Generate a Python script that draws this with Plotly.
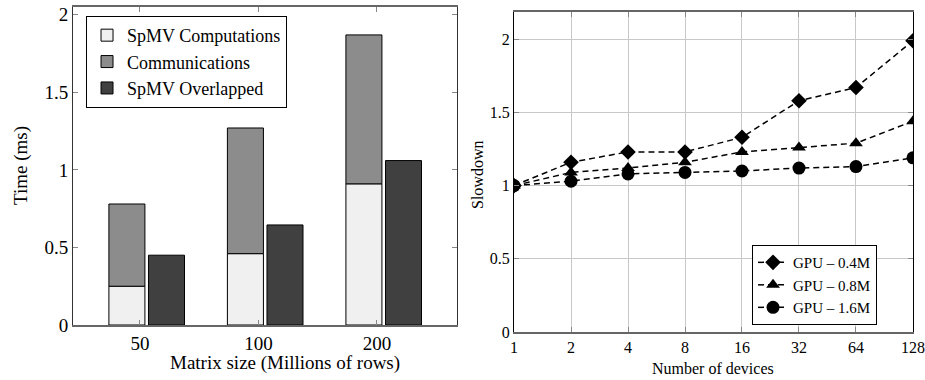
import plotly.graph_objects as go

# Left chart data
matrix_sizes = ["50", "100", "200"]
spmv_comp = [0.25, 0.46, 0.91]
communications = [0.53, 0.81, 0.96]
spmv_overlapped = [0.45, 0.645, 1.06]

# Right chart data
devices = [1, 2, 4, 8, 16, 32, 64, 128]
gpu_04 = [1.0, 1.16, 1.23, 1.23, 1.33, 1.58, 1.67, 1.99]
gpu_08 = [1.0, 1.09, 1.12, 1.16, 1.23, 1.26, 1.29, 1.44]
gpu_16 = [1.0, 1.03, 1.08, 1.09, 1.10, 1.12, 1.13, 1.19]

FONT = "Liberation Serif"
xpos = list(range(len(matrix_sizes)))
BW = 0.304

fig = go.Figure()
fig.add_trace(go.Bar(x=xpos, y=spmv_comp, width=BW, offset=-0.262,
                     marker=dict(color="#f0f0f0", line=dict(color="black", width=1)),
                     name="SpMV Computations", xaxis="x", yaxis="y", legend="legend"))
fig.add_trace(go.Bar(x=xpos, y=communications, base=spmv_comp, width=BW, offset=-0.262,
                     marker=dict(color="#8c8c8c", line=dict(color="black", width=1)),
                     name="Communications", xaxis="x", yaxis="y", legend="legend"))
fig.add_trace(go.Bar(x=xpos, y=spmv_overlapped, width=BW, offset=0.072,
                     marker=dict(color="#404040", line=dict(color="black", width=1)),
                     name="SpMV Overlapped", xaxis="x", yaxis="y", legend="legend"))

line_style = dict(color="black", width=1.5, dash="6px,4px")
fig.add_trace(go.Scatter(x=devices, y=gpu_04, mode="lines+markers", name="GPU – 0.4M",
                         line=line_style, marker=dict(symbol="diamond", size=12, color="black"),
                         xaxis="x2", yaxis="y2", legend="legend2"))
fig.add_trace(go.Scatter(x=devices, y=gpu_08, mode="lines+markers", name="GPU – 0.8M",
                         line=line_style, marker=dict(symbol="triangle-up", size=12, color="black"),
                         xaxis="x2", yaxis="y2", legend="legend2"))
fig.add_trace(go.Scatter(x=devices, y=gpu_16, mode="lines+markers", name="GPU – 1.6M",
                         line=line_style, marker=dict(symbol="circle", size=13, color="black"),
                         xaxis="x2", yaxis="y2", legend="legend2"))

axis_common = dict(showline=True, mirror="ticks", ticks="inside", ticklen=5,
                   tickcolor="#888", zeroline=False, ticklabeloverflow="allow",
                   automargin=False)

fig.update_layout(
    width=925, height=380,
    margin=dict(l=0, r=0, t=0, b=0, autoexpand=False),
    paper_bgcolor="white", plot_bgcolor="white",
    font=dict(family=FONT, size=19, color="black"),
    barmode="overlay",
    xaxis=dict(domain=[0.0789, 0.494], range=[-0.565, 2.675], tickvals=xpos,
               ticktext=matrix_sizes, showgrid=False, linecolor="#666", linewidth=1.5,
               anchor="y", tickfont=dict(size=19), **axis_common),
    yaxis=dict(domain=[0.1447, 0.9816], range=[0, 2.05], tickvals=[0, 0.5, 1, 1.5, 2],
               ticktext=["0", "0.5", "1", "1.5", "2"], showgrid=False,
               linecolor="#333", linewidth=1, anchor="x", tickfont=dict(size=19),
               **axis_common),
    xaxis2=dict(domain=[0.5557, 0.987], type="log", range=[0, 2.10721],
                tickvals=devices, ticktext=[str(d) for d in devices],
                showgrid=True, gridcolor="#c8c8c8", linecolor="#666", linewidth=1.5,
                tickfont=dict(size=16), anchor="y2", **axis_common),
    yaxis2=dict(domain=[0.1263, 0.9684], range=[0, 2.186], tickvals=[0, 0.5, 1, 1.5, 2],
                ticktext=["0", "0.5", "1", "1.5", "2"], showgrid=True, gridcolor="#c8c8c8",
                linecolor="black", linewidth=1, tickfont=dict(size=16), anchor="x2",
                **axis_common),
    legend=dict(x=0.093, y=0.958, xanchor="left", yanchor="top", bgcolor="white",
                bordercolor="black", borderwidth=1, font=dict(size=18), tracegroupgap=0,
                traceorder="normal", itemwidth=30),
    legend2=dict(x=0.813, y=0.355, xanchor="left", yanchor="top", bgcolor="white",
                 bordercolor="black", borderwidth=1, font=dict(size=15), traceorder="normal",
                 itemwidth=30),
    annotations=[
        dict(text="Time (ms)", x=21 / 925, y=1 - 166 / 380, xref="paper", yref="paper",
             xanchor="center", yanchor="middle",
             textangle=-90, showarrow=False, font=dict(size=19)),
        dict(text="Matrix size (Millions of rows)", x=285 / 925, y=1 - 363 / 380,
             xref="paper", yref="paper", xanchor="center", yanchor="middle",
             showarrow=False, font=dict(size=19)),
        dict(text="Slowdown", x=477 / 925, y=1 - 175 / 380, xref="paper", yref="paper",
             xanchor="center", yanchor="middle",
             textangle=-90, showarrow=False, font=dict(size=16)),
        dict(text="Number of devices", x=713 / 925, y=1 - 368 / 380, xref="paper",
             yref="paper", xanchor="center", yanchor="middle",
             showarrow=False, font=dict(size=16)),
    ],
)

fig.write_html("out.html")
